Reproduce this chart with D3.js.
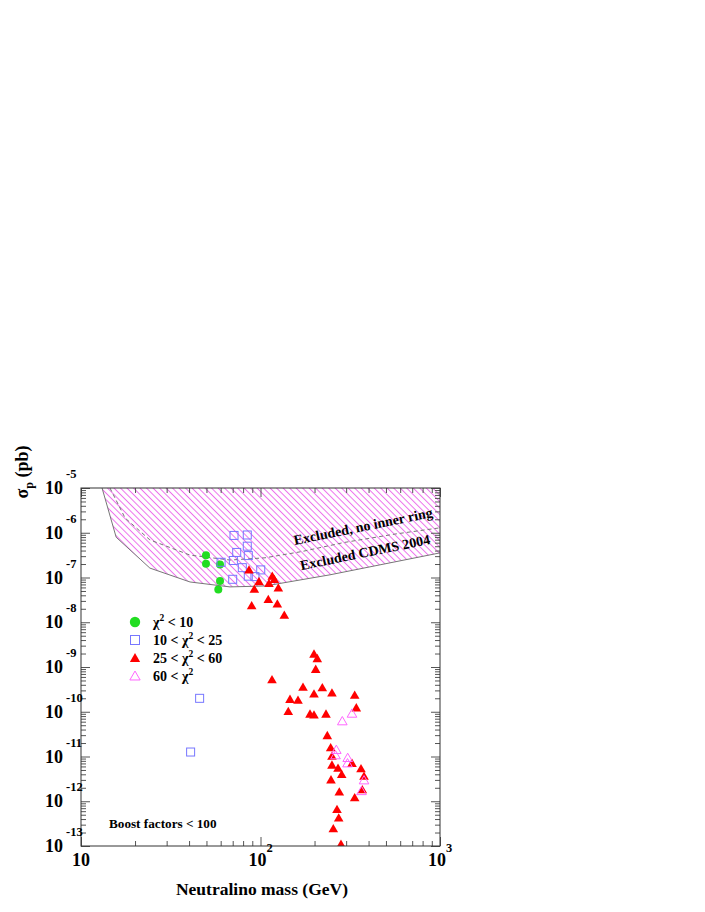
<!DOCTYPE html>
<html><head><meta charset="utf-8">
<script src="https://cdn.jsdelivr.net/npm/d3@7"></script>
<style>
body{margin:0;background:#fff}
text{font-family:"Liberation Serif","Times New Roman",serif;font-weight:bold;fill:#000}
</style>
</head><body>
<svg id="chart" width="705" height="912"></svg>
<script>
// ---------- data (mass in GeV, log10 of sigma_p in pb) ----------
const xTickValues = [10, 100, 1000];
const xTickExponents = [1, 2, 3];
const yTickExponents = [-5, -6, -7, -8, -9, -10, -11, -12, -13];

const greenMass = [49.7, 49.7, 59.5, 59.5, 58.2];
const greenLogSigma = [-6.50, -6.69, -6.71, -7.08, -7.27];

const blueMass = [71.2, 84.4, 84.4, 73.7, 85.5, 60.3, 70.6, 79.2, 100.3, 85.5, 93.1, 70.0, 45.8, 40.8];
const blueLogSigma = [-6.06, -6.05, -6.30, -6.44, -6.51, -6.66, -6.62, -6.78, -6.83, -6.97, -6.98, -7.04, -9.70, -10.90];

const redMass = [86.3, 92.4, 98.1, 89.3, 111.5, 116.3, 119.4, 125.7, 110.5, 124.1, 135.7,
  198.6, 207.2, 203.0, 115.9, 172.5, 221.0, 198.6, 250.1, 334.8, 146.0, 161.8, 341.7,
  142.8, 188.7, 198.6, 231.7, 235.6, 246.0, 250.1, 323.4, 250.1, 270.3, 363.0, 283.4,
  377.3, 247.0, 369.1, 274.8, 334.8, 266.8, 272.7, 254.4, 280.8];
const redLogSigma = [-6.85, -7.28, -7.11, -7.65, -7.15, -6.99, -7.06, -7.25, -7.51, -7.61, -7.86,
  -8.73, -8.83, -9.07, -9.30, -9.47, -9.48, -9.62, -9.60, -9.65, -9.74, -9.76, -9.93,
  -10.01, -10.07, -10.09, -10.07, -10.55, -10.82, -11.01, -11.17, -11.21, -11.28, -11.29, -11.42,
  -11.46, -11.54, -11.76, -11.81, -11.94, -12.20, -12.39, -12.63, -12.98];

const magentaMass = [285.6, 323.4, 264.5, 261.8, 306.0, 305.3, 377.3, 365.4];
const magentaLogSigma = [-10.23, -10.06, -10.87, -10.99, -11.05, -11.17, -11.55, -11.79];

const cdmsMass = [13.1, 15.7, 24.2, 40.5, 67.6, 106, 243.8, 1000];
const cdmsLogSigma = [-5.0, -6.10, -6.79, -7.10, -7.21, -7.19, -6.94, -6.45];

const ringMass = [14.5, 17.6, 24.2, 40.5, 67.6, 106, 170, 290, 560, 1000];
const ringLogSigma = [-5.0, -5.67, -6.16, -6.50, -6.61, -6.56, -6.42, -6.22, -6.03, -5.89];

const legendLabels = [["χ", "2", " < 10"], ["10 < χ", "2", " < 25"], ["25 < χ", "2", " < 60"], ["60 < χ", "2", ""]];

// ---------- layout ----------
const svg = d3.select("#chart");
const L = 81, R = 440, T = 488, B = 846;
const x = d3.scaleLog().domain([10, 1000]).range([L, R]);
const y = d3.scaleLog().domain([1e-13, 1e-5]).range([B, T]);
const pt = (m, ls) => [x(m), y(Math.pow(10, ls))];

const defs = svg.append("defs");
defs.append("clipPath").attr("id", "clip").append("rect")
  .attr("x", L).attr("y", T).attr("width", R - L).attr("height", B - T);
const pat = defs.append("pattern").attr("id", "hatch")
  .attr("patternUnits", "userSpaceOnUse").attr("width", 4.6).attr("height", 4.6)
  .attr("patternTransform", "rotate(-45)");
pat.append("rect").attr("x", 1.8).attr("y", 0).attr("width", 1.0).attr("height", 4.6).attr("fill", "#ec70ec");

const plot = svg.append("g").attr("clip-path", "url(#clip)");

// excluded region
const cdmsPts = cdmsMass.map((m, i) => pt(m, cdmsLogSigma[i]));
const regionPts = cdmsPts.concat([[x(1000), y(1e-5) - 2], [x(cdmsMass[0]), y(1e-5) - 2]]);
plot.append("path").attr("d", "M" + regionPts.map(p => p.join(",")).join("L") + "Z")
  .attr("fill", "url(#hatch)").attr("stroke", "none");
const line = d3.line();
plot.append("path").attr("d", line(cdmsPts)).attr("fill", "none")
  .attr("stroke", "#777").attr("stroke-width", 1);
plot.append("path").attr("d", line(ringMass.map((m, i) => pt(m, ringLogSigma[i]))))
  .attr("fill", "none").attr("stroke", "#777").attr("stroke-width", 1).attr("stroke-dasharray", "4,3");

// region labels
svg.append("text").attr("transform", "translate(364,531) rotate(-11.5)")
  .attr("text-anchor", "middle").attr("font-size", 14).text("Excluded, no inner ring");
svg.append("text").attr("transform", "translate(366,557) rotate(-11.5)")
  .attr("text-anchor", "middle").attr("font-size", 14).text("Excluded CDMS 2004");

// ---------- axes / frame ----------
const axisCol = "#555";
const minorY = [], minorX = [];
for (let e = -13; e < -5; e++) for (let k = 2; k <= 9; k++) minorY.push(k * Math.pow(10, e));
for (let e = 1; e < 3; e++) for (let k = 2; k <= 9; k++) minorX.push(k * Math.pow(10, e));
const majorY = yTickExponents.map(e => Math.pow(10, e));

function styleAxis(g) { g.select(".domain").remove(); g.selectAll("line").attr("stroke", axisCol); g.selectAll("text").remove(); }
svg.append("g").attr("transform", `translate(${L},0)`).call(d3.axisLeft(y).tickValues(majorY).tickSize(-9)).call(styleAxis);
svg.append("g").attr("transform", `translate(${L},0)`).call(d3.axisLeft(y).tickValues(minorY).tickSize(-5)).call(styleAxis);
svg.append("g").attr("transform", `translate(${R},0)`).call(d3.axisRight(y).tickValues(majorY).tickSize(-9)).call(styleAxis);
svg.append("g").attr("transform", `translate(${R},0)`).call(d3.axisRight(y).tickValues(minorY).tickSize(-5)).call(styleAxis);
svg.append("g").attr("transform", `translate(0,${B})`).call(d3.axisBottom(x).tickValues(xTickValues).tickSize(-9)).call(styleAxis);
svg.append("g").attr("transform", `translate(0,${B})`).call(d3.axisBottom(x).tickValues(minorX).tickSize(-5)).call(styleAxis);
svg.append("g").attr("transform", `translate(0,${T})`).call(d3.axisTop(x).tickValues(xTickValues).tickSize(-9)).call(styleAxis);
svg.append("g").attr("transform", `translate(0,${T})`).call(d3.axisTop(x).tickValues(minorX).tickSize(-5)).call(styleAxis);
svg.append("rect").attr("x", L).attr("y", T).attr("width", R - L).attr("height", B - T)
  .attr("fill", "none").attr("stroke", "#333").attr("stroke-width", 1);

// y tick labels
yTickExponents.forEach(e => {
  const yy = y(Math.pow(10, e));
  svg.append("text").attr("x", 63).attr("y", yy + 6).attr("text-anchor", "end").attr("font-size", 18).text("10");
  svg.append("text").attr("x", 66).attr("y", yy - 10).attr("font-size", 12.5).text(String(e));
});
// x tick labels
xTickValues.forEach((v, i) => {
  const t = svg.append("text").attr("x", x(v)).attr("y", 866).attr("text-anchor", "middle").attr("font-size", 18);
  t.append("tspan").text("10");
  if (xTickExponents[i] !== 1) t.append("tspan").attr("dy", -14).attr("font-size", 12.5).text(String(xTickExponents[i]));
});

// axis titles
svg.append("text").attr("x", 262).attr("y", 895).attr("text-anchor", "middle").attr("font-size", 17.5)
  .text("Neutralino mass (GeV)");
const yt = svg.append("text").attr("transform", "translate(28,472) rotate(-90)").attr("text-anchor", "middle").attr("font-size", 18);
yt.append("tspan").text("σ");
yt.append("tspan").attr("dy", 5).attr("font-size", 12).text("p");
yt.append("tspan").attr("dy", -5).text(" (pb)");

// ---------- markers ----------
const tri = d3.symbol().type(d3.symbolTriangle).size(40);
const triL = d3.symbol().type(d3.symbolTriangle).size(46);
plot.selectAll(".g").data(greenMass).join("circle")
  .attr("cx", d => x(d)).attr("cy", (d, i) => y(Math.pow(10, greenLogSigma[i]))).attr("r", 4).attr("fill", "#22dd22");
plot.selectAll(".b").data(blueMass).join("rect")
  .attr("x", d => x(d) - 4).attr("y", (d, i) => y(Math.pow(10, blueLogSigma[i])) - 4)
  .attr("width", 8).attr("height", 8).attr("fill", "none").attr("stroke", "#7777ff").attr("stroke-width", 1);
plot.selectAll(".r").data(redMass).join("path")
  .attr("d", tri).attr("transform", (d, i) => `translate(${x(d)},${y(Math.pow(10, redLogSigma[i]))})`).attr("fill", "#ff0000");
plot.selectAll(".m").data(magentaMass).join("path")
  .attr("d", tri).attr("transform", (d, i) => `translate(${x(d)},${y(Math.pow(10, magentaLogSigma[i]))})`)
  .attr("fill", "none").attr("stroke", "#ff66ff").attr("stroke-width", 1);

// legend
const lgX = 135, lgY = [622, 640, 658, 676];
svg.append("circle").attr("cx", lgX).attr("cy", lgY[0]).attr("r", 5.2).attr("fill", "#22dd22");
svg.append("rect").attr("x", lgX - 4.5).attr("y", lgY[1] - 4.5).attr("width", 9).attr("height", 9)
  .attr("fill", "none").attr("stroke", "#7777ff");
svg.append("path").attr("d", triL).attr("transform", `translate(${lgX},${lgY[2] + 1})`).attr("fill", "#ff0000");
svg.append("path").attr("d", triL).attr("transform", `translate(${lgX},${lgY[3] + 1})`)
  .attr("fill", "none").attr("stroke", "#ff66ff");
legendLabels.forEach((parts, i) => {
  const t = svg.append("text").attr("x", 153).attr("y", lgY[i] + 5).attr("font-size", 14);
  t.append("tspan").text(parts[0]);
  t.append("tspan").attr("dy", -6).attr("font-size", 9.5).text(parts[1]);
  t.append("tspan").attr("dy", 6).text(parts[2]);
});

svg.append("text").attr("x", 109).attr("y", 828).attr("font-size", 13.2).text("Boost factors < 100");
</script>
</body></html>
